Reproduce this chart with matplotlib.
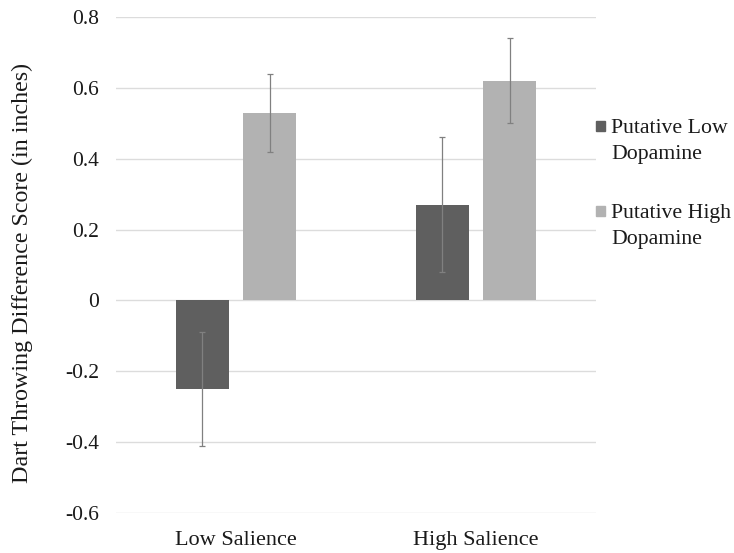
import numpy as np
import matplotlib
matplotlib.use("Agg")
import matplotlib.pyplot as plt
from matplotlib.patches import Rectangle

plt.rcParams['font.family'] = ['Liberation Serif', 'DejaVu Serif']

categories = ['Low Salience', 'High Salience']
series = ['Putative Low\nDopamine', 'Putative High\nDopamine']
colors = ['#5f5f5f', '#b2b2b2']
low_dopamine = [-0.25, 0.27]
high_dopamine = [0.53, 0.62]
low_dopamine_err = [0.16, 0.19]
high_dopamine_err = [0.11, 0.12]
y_ticks = [-0.6, -0.4, -0.2, 0, 0.2, 0.4, 0.6, 0.8]
y_labels = ['-0.6', '-0.4', '-0.2', '0', '0.2', '0.4', '0.6', '0.8']

W, H = 734, 553
fig = plt.figure(figsize=(W / 100, H / 100), dpi=100)
ax = fig.add_axes([116 / W, 1 - 513 / H, 480 / W, 496 / H])

x = np.arange(len(categories))
w = 0.222
off = 0.141
err_kw = dict(ecolor='#808080', elinewidth=0.9, capsize=2.5, capthick=0.9)
ax.bar(x - off, low_dopamine, w, yerr=low_dopamine_err, color=colors[0],
       error_kw=err_kw, zorder=3)
ax.bar(x + off, high_dopamine, w, yerr=high_dopamine_err, color=colors[1],
       error_kw=err_kw, zorder=3)

ax.set_ylim(-0.6, 0.8)
ax.set_xlim(-0.5, 1.5)
ax.set_yticks(y_ticks)
ax.set_yticklabels(y_labels)
ax.set_xticks(x)
ax.set_xticklabels(categories)
ax.tick_params(length=0, colors='#1a1a1a')
ax.tick_params(axis='y', labelsize=15.5, pad=12)
ax.tick_params(axis='x', labelsize=16, pad=13)
ax.yaxis.grid(True, color='#dcdcdc', linewidth=1, zorder=0)
for s in ax.spines.values():
    s.set_visible(False)
ax.set_ylabel('Dart Throwing Difference Score (in inches)', fontsize=17.3,
              color='#1a1a1a')
ax.yaxis.set_label_coords(-0.172, 0.484)

# legend: square marker next to first line of each two-line label
for i, (lab, c) in enumerate(zip(series, colors)):
    yc = 126 + i * 85
    fig.add_artist(Rectangle((596 / W, 1 - (yc + 5) / H), 9 / W, 10 / H,
                             transform=fig.transFigure, color=c))
    fig.text(611 / W, 1 - (yc - 7) / H, lab, fontsize=15.7, va='top',
             ha='left', linespacing=1.48, color='#1a1a1a')

fig.savefig('out.png', dpi=100)
